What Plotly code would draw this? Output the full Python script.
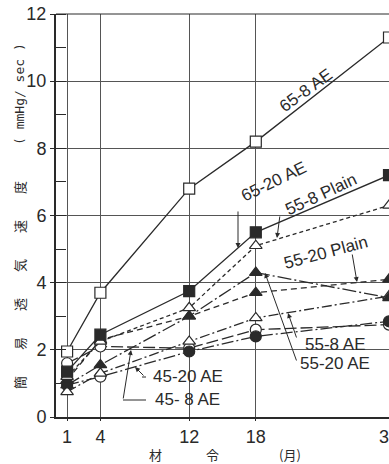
import plotly.graph_objects as go

months = [1, 4, 12, 18, 30]
x_ticks = [1, 4, 12, 18, 30]
x_tick_text = ["1", "4", "12", "18", "30"]

s65_8_ae = [1.95, 3.7, 6.8, 8.2, 11.3]
s65_20_ae = [1.35, 2.45, 3.75, 5.5, 7.2]
s55_8_plain = [1.2, 2.25, 3.25, 5.1, 6.3]
s55_20_plain = [1.1, 2.3, 3.0, 3.7, 4.1]
s55_8_ae = [0.75, 1.3, 2.25, 2.95, 3.6]
s55_20_ae = [0.95, 1.55, 3.0, 4.3, 3.55]
s45_8_ae = [1.6, 2.1, 2.05, 2.6, 2.75]
s45_20_ae = [0.95, 1.2, 1.95, 2.4, 2.85]

INK = "#2a2a2a"
W = "white"

series = [
    # name, values, dash, symbol, fill
    ("45-8 AE", s45_8_ae, "12px,4px", "circle", W),
    ("45-20 AE", s45_20_ae, "12px,3px,2px,3px", "circle", [INK, W, INK, INK, INK]),
    ("55-8 AE", s55_8_ae, "10px,3px,2px,3px", "triangle-up", W),
    ("55-20 AE", s55_20_ae, "14px,3px,2px,3px", "triangle-up", INK),
    ("55-20 Plain", s55_20_plain, "6px,4px", "triangle-up", INK),
    ("55-8 Plain", s55_8_plain, "4px,3px", "triangle-up", W),
    ("65-20 AE", s65_20_ae, "solid", "square", INK),
    ("65-8 AE", s65_8_ae, "solid", "square", W),
]

fig = go.Figure()
for name, vals, dash, sym, fill in series:
    fig.add_trace(go.Scatter(
        x=months, y=vals, mode="lines+markers", name=name,
        line=dict(color=INK, width=1.3, dash=dash),
        marker=dict(symbol=sym, size=11, color=fill, line=dict(color=INK, width=1.2)),
        showlegend=False,
    ))

LF = "Liberation Sans, Arial, sans-serif"

# screen-pixel helpers (plot area: x 56..389, y 14..417 on screen)
def px2m(x):
    return (x - 56) / 11.1

def px2v(y):
    return (417 - y) / 33.58

labels = [
    ("65-8 AE", 306, 91, -36, 17),
    ("65-20 AE", 274, 182, -26, 17),
    ("55-8 Plain", 321, 195, -25, 17),
    ("55-20 Plain", 326, 253, -15, 17),
    ("55-8 AE", 335, 345, 0, 17),
    ("55-20 AE", 335, 364, 0, 17),
    ("45-20 AE", 188, 376, 0, 17),
    ("45- 8 AE", 187, 399, 0, 17),
]
for t, x, y, ang, fs in labels:
    fig.add_annotation(x=px2m(x), y=px2v(y), text=t, showarrow=False,
                       xanchor="center", yanchor="middle",
                       textangle=ang, font=dict(family=LF, size=fs, color=INK))

arrows = [
    # tip px, tail px
    ((238, 248), (238, 210)),
    ((277, 238), (280, 215)),
    ((357, 282), (352, 253)),
    ((288, 313), (297, 339)),
    ((265, 273), (297, 362)),
    ((135, 367), (145, 377)),
    ((131, 350), (123, 400)),
]
for (tx, ty), (sx, sy) in arrows:
    fig.add_annotation(x=px2m(tx), y=px2v(ty), ax=sx - tx, ay=sy - ty, text="",
                       showarrow=True, arrowhead=2, arrowsize=1, arrowwidth=1,
                       arrowcolor=INK)

fig.add_shape(type="line", x0=px2m(123), y0=px2v(400), x1=px2m(146), y1=px2v(400),
              line=dict(color=INK, width=1))
fig.add_shape(type="line", x0=px2m(142), y0=px2v(377), x1=px2m(146), y1=px2v(377),
              line=dict(color=INK, width=1))

# axis titles
xt = [("材", 155), ("令", 212), ("(月)", 290)]
for t, x in xt:
    fig.add_annotation(x=px2m(x), y=(417 - 454) / 403, xref="x", yref="paper", text=t,
                       showarrow=False, xanchor="center", yanchor="middle",
                       font=dict(family="Noto Sans CJK JP", size=13, color=INK))

fig.add_annotation(x=(19 - 56) / 333, y=(417 - 285) / 403, xref="paper", yref="paper",
                   text="簡　　易　　透　　気　　速　　度", textangle=-90, showarrow=False,
                   xanchor="center", yanchor="middle",
                   font=dict(family="Noto Sans CJK JP", size=13, color=INK))
fig.add_annotation(x=(19 - 56) / 333, y=(417 - 94) / 403, xref="paper", yref="paper",
                   text="( mmHg/ sec )", textangle=-90, showarrow=False,
                   xanchor="center", yanchor="middle",
                   font=dict(family="DejaVu Sans Mono", size=13, color=INK))

fig.update_xaxes(range=[0, 30], tickmode="array", tickvals=x_ticks, ticktext=x_tick_text,
                 showgrid=True, gridcolor="#555", gridwidth=1,
                 showline=True, linecolor=INK, linewidth=2, mirror=False,
                 ticks="outside", ticklen=2, tickcolor=INK, ticklabeloverflow="allow",
                 automargin=False,
                 tickfont=dict(family=LF, size=18, color=INK), zeroline=False)
fig.update_yaxes(range=[0, 12], tick0=0, dtick=2,
                 showgrid=True, gridcolor="#555", gridwidth=1,
                 showline=True, linecolor=INK, linewidth=2, automargin=False,
                 ticks="outside", ticklen=4, tickcolor=INK,
                 minor=dict(dtick=1, tick0=0, ticks="inside", ticklen=10, tickcolor=INK, showgrid=False),
                 tickfont=dict(family=LF, size=18, color=INK), zeroline=False)

fig.add_shape(type="line", xref="paper", yref="paper", x0=0, x1=1, y0=1, y1=1,
              line=dict(color=INK, width=1))

fig.update_layout(width=389, height=464, margin=dict(l=56, r=0, t=14, b=47),
                  paper_bgcolor="white", plot_bgcolor="white")

# remove the page's default 8px body margin so the figure fills the window
fig.write_html("out.html", config={"displayModeBar": False},
               post_script="document.body.style.margin='0';document.body.style.overflow='hidden';")
